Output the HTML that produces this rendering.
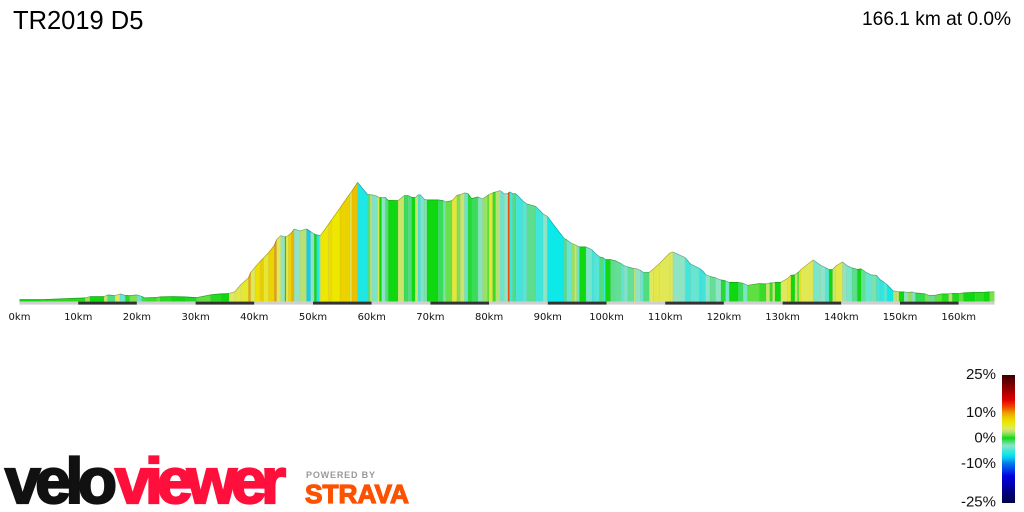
<!DOCTYPE html>
<html>
<head>
<meta charset="utf-8">
<title>TR2019 D5</title>
<style>
html,body{margin:0;padding:0;background:#fff;}
body{width:1024px;height:512px;overflow:hidden;}
svg{display:block;}
</style>
</head>
<body>
<svg id="chart" width="1024" height="512" viewBox="0 0 1024 512" xmlns="http://www.w3.org/2000/svg">
  <text x="13" y="29" font-family="'Liberation Sans',sans-serif" font-size="25.5" fill="#000">TR2019 D5</text>
  <text x="1011" y="25" text-anchor="end" font-family="'Liberation Sans',sans-serif" font-size="19.15" fill="#000">166.1 km at 0.0%</text>
  <g id="segments"></g>
  <g id="xaxis"></g>
  <g id="legend"></g>
  <g font-family="'Liberation Sans',sans-serif" font-weight="700">
    <text x="5" y="503" font-size="64" fill="#111" stroke="#111" stroke-width="2.2" textLength="112" lengthAdjust="spacing">velo</text>
    <text x="115" y="503" font-size="64" fill="#ff0f3c" stroke="#ff0f3c" stroke-width="2.2" textLength="171" lengthAdjust="spacing">viewer</text>
  </g>
  <g font-family="'Liberation Sans',sans-serif" font-weight="700">
    <text x="306" y="478" font-size="9" fill="#999" textLength="69" lengthAdjust="spacing">POWERED BY</text>
    <text x="305" y="503" font-size="26" fill="#fc5200" stroke="#fc5200" stroke-width="1.2" textLength="104" lengthAdjust="spacingAndGlyphs">STRAVA</text>
  </g>
</svg>
<script>
// Distance (km) of each profile point
const profileKm = [0,3.8,11.2,12.0,14.4,15.0,16.3,17.1,18.0,18.8,20.0,20.8,21.4,23.4,23.9,25.9,28.2,30.2,32.5,34.2,35.7,36.7,37.7,39.0,39.4,40.1,41.0,41.6,42.4,43.4,43.8,44.5,45.2,45.4,45.8,46.3,46.8,47.8,48.9,49.6,50.2,50.6,51.1,51.3,52.6,53.2,54.6,56.3,56.6,57.6,59.3,59.7,60.1,61.0,61.3,61.7,62.3,62.8,64.5,65.5,66.2,66.8,67.4,67.9,68.3,68.9,69.4,71.3,72.2,72.6,73.7,74.5,75.1,75.8,76.4,77.0,78.1,78.9,79.7,80.0,80.6,81.1,81.9,82.6,83.2,83.5,84.0,84.6,85.7,86.4,87.9,89.2,89.9,92.8,93.2,94.1,94.6,94.9,95.4,96.5,97.5,98.0,98.8,99.5,99.8,100.7,101.6,102.6,103.0,103.6,104.7,104.9,105.8,106.3,107.3,108.0,109.0,110.8,111.3,113.4,114.3,115.8,116.4,116.9,117.6,118.6,119.5,120.3,120.9,122.4,123.3,124.0,126.0,127.2,127.8,128.3,128.7,129.7,130.8,131.4,132.1,132.5,132.8,133.1,135.2,136.5,137.3,137.9,138.5,139.0,140.2,140.9,141.8,142.7,143.4,144.1,145.1,146.0,146.6,147.2,147.8,148.8,149.4,149.8,150.7,151.4,152.1,152.6,154.3,154.9,155.9,157.1,158.3,158.9,160.1,160.8,162.8,164.2,165.3,166.1];
// Elevation above the lowest point (m) of each profile point
const profileElev = [10,10,27,40,40,57,50,67,53,50,57,43,27,33,37,40,37,30,57,67,70,90,160,227,283,333,393,427,477,550,610,650,637,640,650,677,717,697,717,690,667,657,653,653,760,810,927,1070,1093,1183,1060,1060,1057,1043,1030,1030,1033,1003,1000,1050,1050,1033,1030,1057,1057,1017,1007,1007,1000,987,1000,1053,1060,1077,1070,1020,1037,1017,1050,1060,1077,1087,1100,1067,1070,1087,1070,1067,1000,967,943,867,843,620,610,570,560,550,537,537,510,477,437,427,410,410,397,367,350,337,320,323,303,280,283,317,370,477,487,430,367,323,297,260,243,227,207,197,183,183,173,153,170,167,177,177,183,183,220,253,257,277,290,310,407,353,330,310,310,343,387,353,327,313,317,287,257,253,210,187,160,97,93,87,87,80,87,77,67,53,53,67,67,73,70,77,83,83,87,87];
// Gradient (%) of each segment between consecutive profile points
const segmentGrade = [0,0.3,2,0,3,-1.5,3.5,-4,0.3,1.5,-4,-1,0.5,1,0.3,0,-0.3,1,0.3,0,3.5,4.5,5,9.5,4,6.5,8,5,7.5,10,4,-3,0,4.5,7.5,9,-3,2.5,-7.5,-3,0,-6,3,6,7,6,7.5,4,8.5,-6,-1.5,2.5,-3.5,4,0,-3,-1.5,0,3,-1,-1.5,0,3,-5,-3.5,-2.5,0,-1,-2.5,1.2,5,1.5,3,-4,-0.5,-1,-2.8,2,1,5,0.5,2.5,-4,-3,12,-5,-1.5,-5,-4.5,-1.8,-5,-3,-6.5,-1.5,-4,2,5,-4,0,-3.5,-5,-4.5,-1.5,-5,0,-1.8,-2,-4,-3.5,-2,3,-3,-4,-1.5,3.5,4.5,4,4,-3,-5,-4,-5.5,-5,-3,-2,-3,-0.5,-3.5,0,-1,-3.5,1,0.5,3,0.5,3,0,3.5,5,0,3,1,6,4,-3.5,-3,-4.5,0,3,4.5,-3,-3.5,-1.8,0,-2,-4,-2.5,-5,-5.5,-4.5,-6.5,2.5,3,0,-3,1.8,-3.5,-0.8,1.5,-2,1,0.3,2.5,0.2,1,0,0.4,0,1.5];
// Axis tick distances (km)
const axisTicksKm = [0,10,20,30,40,50,60,70,80,90,100,110,120,130,140,150,160];
const routeLengthKm = 166.1;
// Legend tick gradients (%)
const legendTicks = [25,10,0,-10,-25];

const NS = 'http://www.w3.org/2000/svg';
const xScale = km => 19.5 + km * 5.87;
const yScale = m => 300.6 - m / 10;
const BASE_Y = 301.6;
const legendY = g => 438 - 2.55 * g;

// Colour ramp for gradient -> colour
const rampGrades = [-25,-15,-10,-8,-6.5,-5,-3,-1.5,0,1,2.5,3.5,4.5,6,8,10,12,15,20,25];
const rampColors = ['#00004a','#0000e0','#0078f0','#10c0f0','#0de8e8','#40e6dc','#8ee4c4','#50dd80','#10d810','#5ee040','#b6e274','#dfe860','#e2e84a','#ece800','#eccc00','#e99c00','#f04c00','#e00000','#8a0000','#3a0000'];
const hex = c => [1,3,5].map(i => parseInt(c.substr(i,2),16));
function gradeColor(g){
  if(g <= rampGrades[0]) return hex(rampColors[0]);
  for(let i=1;i<rampGrades.length;i++){
    if(g <= rampGrades[i]){
      const t=(g-rampGrades[i-1])/(rampGrades[i]-rampGrades[i-1]);
      const a=hex(rampColors[i-1]),b=hex(rampColors[i]);
      return a.map((v,k)=>Math.round(v+(b[k]-v)*t));
    }
  }
  return hex(rampColors[rampColors.length-1]);
}
const rgb = (c,f=1) => 'rgb('+c.map(v=>Math.round(v*f)).join(',')+')';

const segG = document.getElementById('segments');
segmentGrade.forEach((g,i)=>{
  const x0=xScale(profileKm[i]),x1=xScale(profileKm[i+1]);
  const y0=yScale(profileElev[i]),y1=yScale(profileElev[i+1]);
  const c=gradeColor(g);
  const poly=document.createElementNS(NS,'polygon');
  
  
  poly.setAttribute('points',[x0,BASE_Y,x0,y0,x1,y1,x1,BASE_Y].map(v=>v.toFixed(2)).join(' '));
  poly.setAttribute('fill',rgb(c));
  segG.appendChild(poly);
  const edge=document.createElementNS(NS,'line');
  
  
  edge.setAttribute('x1',x0.toFixed(2));
  edge.setAttribute('x2',x0.toFixed(2));
  edge.setAttribute('y1',y0.toFixed(2));
  edge.setAttribute('y2',BASE_Y);
  edge.setAttribute('stroke','rgba(120,120,90,0.18)');
  edge.setAttribute('stroke-width','0.6');
  segG.appendChild(edge);
});
segmentGrade.forEach((g,i)=>{
  const top=document.createElementNS(NS,'line');
  
  
  top.setAttribute('x1',xScale(profileKm[i]).toFixed(2));
  top.setAttribute('x2',xScale(profileKm[i+1]).toFixed(2));
  top.setAttribute('y1',yScale(profileElev[i]).toFixed(2));
  top.setAttribute('y2',yScale(profileElev[i+1]).toFixed(2));
  top.setAttribute('stroke',rgb(gradeColor(g),0.72));
  top.setAttribute('stroke-width','0.7');
  segG.appendChild(top);
});

const axisG=document.getElementById('xaxis');
axisTicksKm.forEach((km,i)=>{
  const end=i+1<axisTicksKm.length?axisTicksKm[i+1]:routeLengthKm;
  const bar=document.createElementNS(NS,'rect');
  
  
  bar.setAttribute('x',xScale(km).toFixed(2));
  bar.setAttribute('y','301.6');
  bar.setAttribute('width',(xScale(end)-xScale(km)).toFixed(2));
  bar.setAttribute('height','3');
  bar.setAttribute('fill',i%2?'#333':'#cfcfcf');
  axisG.appendChild(bar);
  const lab=document.createElementNS(NS,'text');
  
  
  lab.setAttribute('x',xScale(km).toFixed(2));
  lab.setAttribute('y','320');
  lab.setAttribute('text-anchor','middle');
  lab.setAttribute('font-family',"'DejaVu Sans',sans-serif");
  lab.setAttribute('font-size','10');
  lab.setAttribute('fill','#111');
  lab.textContent=km+'km';
  axisG.appendChild(lab);
});

const legG=document.getElementById('legend');
const defs=document.createElementNS(NS,'defs');
const lg=document.createElementNS(NS,'linearGradient');
lg.setAttribute('id','legend-ramp');
lg.setAttribute('x1','0');lg.setAttribute('x2','0');lg.setAttribute('y1','0');lg.setAttribute('y2','1');
const LEG_TOP=375,LEG_BOTTOM=503;
rampGrades.slice().reverse().forEach((g,i)=>{
  const s=document.createElementNS(NS,'stop');
  s.setAttribute('offset',Math.min(1,Math.max(0,(legendY(g)-LEG_TOP)/(LEG_BOTTOM-LEG_TOP))).toFixed(4));
  s.setAttribute('stop-color',rgb(gradeColor(g)));
  lg.appendChild(s);
});
defs.appendChild(lg);
legG.appendChild(defs);
const legBar=document.createElementNS(NS,'rect');


legBar.setAttribute('x','1002');
legBar.setAttribute('y',LEG_TOP);
legBar.setAttribute('width','13');
legBar.setAttribute('height',LEG_BOTTOM-LEG_TOP);
legBar.setAttribute('fill','url(#legend-ramp)');
legG.appendChild(legBar);
legendTicks.forEach(v=>{
  const t=document.createElementNS(NS,'text');
  
  
  t.setAttribute('x','996');
  t.setAttribute('y',(legendY(v)+4.5).toFixed(1));
  t.setAttribute('text-anchor','end');
  t.setAttribute('font-family',"'Liberation Sans',sans-serif");
  t.setAttribute('font-size','15');
  t.setAttribute('fill','#111');
  t.textContent=v+'%';
  legG.appendChild(t);
});
</script>
</body>
</html>
